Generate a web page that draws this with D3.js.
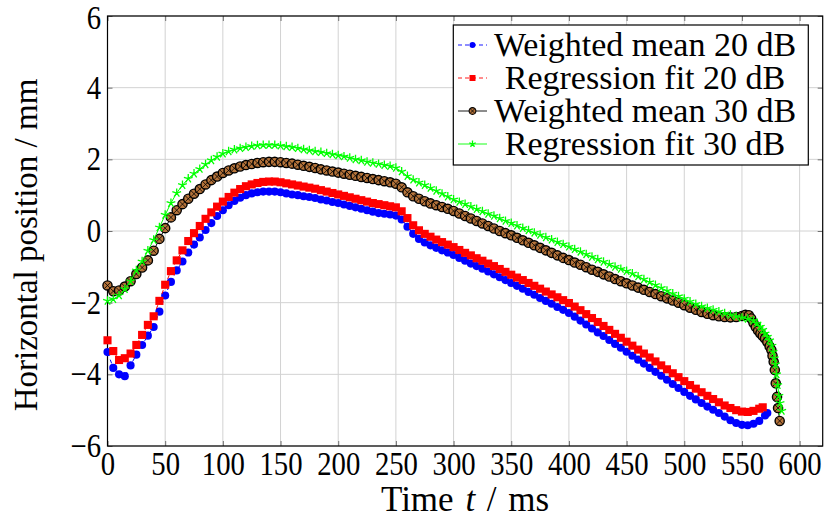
<!DOCTYPE html>
<html><head><meta charset="utf-8">
<script src="https://cdn.jsdelivr.net/npm/d3@7"></script>
<style>
body{margin:0;background:#fff}
text{font-family:"Liberation Serif","Times New Roman",serif;fill:#000}
</style>
</head><body>
<svg id="chart" width="828" height="525"></svg>
<script>
// ---------------- data ----------------
const xTicks = [0,50,100,150,200,250,300,350,400,450,500,550,600];
const yTicks = [-6,-4,-2,0,2,4,6];
const seriesNames = ["Weighted mean 20 dB","Regression fit 20 dB","Weighted mean 30 dB","Regression fit 30 dB"];

// sample times (ms)
const timeWM20 = d3.range(0, 571, 5).concat([572]);
const timeRF20 = d3.range(0, 566, 5).concat([568]);
const timeWM30 = d3.range(0, 551, 5).concat([553,556,558,560,562,564,566,568,570,572,574,575.5,576.5,577.5,578.5,579.3,580.4,581.3,582.7]);
const timeRF30 = d3.range(0, 556, 5).concat([560,563,566,568,570,572,574,576,577,578,579,580,581,582,583,584.5]);

// horizontal position (mm)
const valWM20 = [
 -3.38,-3.82,-4.0,-4.05,-3.75,-3.45,-3.18,-2.92,-2.68,-2.25,
 -1.8,-1.42,-1.1,-0.85,-0.6,-0.38,-0.18,0.03,0.22,0.42,
 0.58,0.72,0.84,0.93,1.0,1.05,1.08,1.1,1.1,1.1,
 1.08,1.05,1.02,1.0,0.97,0.95,0.92,0.88,0.85,0.81,
 0.78,0.74,0.7,0.66,0.62,0.58,0.54,0.5,0.48,0.46,
 0.43,0.32,0.12,-0.08,-0.22,-0.32,-0.4,-0.47,-0.54,-0.6,
 -0.67,-0.75,-0.83,-0.91,-0.98,-1.05,-1.13,-1.21,-1.29,-1.37,
 -1.45,-1.53,-1.61,-1.7,-1.78,-1.87,-1.95,-2.03,-2.12,-2.2,
 -2.29,-2.39,-2.5,-2.61,-2.72,-2.83,-2.93,-3.04,-3.15,-3.26,
 -3.37,-3.48,-3.59,-3.7,-3.82,-3.93,-4.04,-4.15,-4.27,-4.38,
 -4.49,-4.6,-4.7,-4.8,-4.9,-4.99,-5.08,-5.18,-5.28,-5.36,
 -5.41,-5.42,-5.38,-5.3,-5.15,
 -5.08];
const valRF20 = [
 -3.05,-3.35,-3.6,-3.55,-3.42,-3.18,-2.9,-2.62,-2.38,-1.95,
 -1.5,-1.12,-0.82,-0.54,-0.28,-0.06,0.14,0.34,0.52,0.68,
 0.82,0.95,1.07,1.17,1.25,1.3,1.34,1.37,1.38,1.38,
 1.36,1.33,1.3,1.27,1.24,1.21,1.18,1.14,1.1,1.06,
 1.02,0.98,0.94,0.9,0.86,0.82,0.78,0.75,0.72,0.69,
 0.66,0.55,0.36,0.16,0.02,-0.08,-0.16,-0.24,-0.31,-0.38,
 -0.45,-0.53,-0.61,-0.68,-0.76,-0.83,-0.91,-0.98,-1.06,-1.14,
 -1.22,-1.3,-1.37,-1.45,-1.53,-1.61,-1.69,-1.77,-1.85,-1.93,
 -2.01,-2.11,-2.21,-2.32,-2.43,-2.54,-2.65,-2.76,-2.87,-2.98,
 -3.09,-3.2,-3.31,-3.42,-3.53,-3.64,-3.75,-3.86,-3.97,-4.08,
 -4.19,-4.3,-4.4,-4.5,-4.6,-4.69,-4.78,-4.87,-4.94,-5.0,
 -5.04,-5.05,-5.02,-4.96,
 -4.92];
const valWM30 = [
 -1.52,-1.68,-1.66,-1.55,-1.4,-1.2,-1.02,-0.82,-0.55,-0.22,
 0.08,0.38,0.58,0.75,0.9,1.04,1.17,1.3,1.42,1.52,
 1.62,1.69,1.75,1.8,1.84,1.87,1.9,1.92,1.93,1.93,
 1.92,1.9,1.88,1.85,1.82,1.79,1.76,1.72,1.69,1.66,
 1.63,1.6,1.57,1.54,1.51,1.48,1.45,1.42,1.39,1.36,
 1.32,1.22,1.08,0.97,0.9,0.83,0.77,0.72,0.67,0.62,
 0.56,0.49,0.42,0.35,0.28,0.21,0.14,0.07,0.0,-0.06,
 -0.12,-0.19,-0.26,-0.33,-0.4,-0.47,-0.54,-0.61,-0.68,-0.75,
 -0.81,-0.88,-0.94,-1.01,-1.08,-1.14,-1.21,-1.27,-1.34,-1.4,
 -1.46,-1.52,-1.58,-1.64,-1.7,-1.76,-1.82,-1.88,-1.94,-2.0,
 -2.07,-2.14,-2.2,-2.26,-2.31,-2.35,-2.38,-2.4,-2.41,-2.4,
 -2.37,
 -2.34,-2.35,-2.44,-2.57,-2.68,-2.78,-2.86,-2.93,-3.0,-3.1,-3.22,-3.32,-3.48,-3.65,-3.88,-4.25,-4.63,-4.94,-5.3];
const valRF30 = [
 -1.95,-1.9,-1.8,-1.62,-1.4,-1.1,-0.85,-0.55,-0.25,0.1,
 0.45,0.78,1.06,1.28,1.46,1.6,1.73,1.86,1.97,2.07,
 2.16,2.22,2.27,2.31,2.34,2.37,2.39,2.4,2.4,2.4,
 2.38,2.36,2.34,2.31,2.28,2.25,2.22,2.2,2.17,2.14,
 2.11,2.08,2.04,2.0,1.97,1.93,1.9,1.87,1.84,1.81,
 1.76,1.66,1.53,1.43,1.35,1.28,1.2,1.12,1.04,0.96,
 0.88,0.81,0.75,0.68,0.61,0.55,0.48,0.42,0.35,0.28,
 0.22,0.15,0.08,0.02,-0.05,-0.11,-0.18,-0.24,-0.31,-0.37,
 -0.44,-0.51,-0.58,-0.65,-0.72,-0.79,-0.86,-0.93,-1.0,-1.06,
 -1.12,-1.19,-1.27,-1.35,-1.43,-1.51,-1.59,-1.67,-1.75,-1.82,
 -1.89,-1.97,-2.04,-2.1,-2.15,-2.2,-2.25,-2.3,-2.34,-2.38,
 -2.42,-2.45,
 -2.5,-2.58,-2.67,-2.76,-2.86,-2.95,-3.05,-3.2,-3.37,-3.55,-3.72,-4.0,-4.3,-4.6,-4.8,-5.02];

// ---------------- chart ----------------
const svg = d3.select("#chart");
const L = 107.5, R = 822.7, T = 16, B = 446;
const x = d3.scaleLinear().domain([0, 620]).range([L, R]);
const y = d3.scaleLinear().domain([-6, 6]).range([B, T]);

const zip = (ts, vs) => ts.slice(0, Math.min(ts.length, vs.length)).map((t, i) => ({t, v: vs[i]}));

// grid
const grid = svg.append("g");
grid.selectAll(".gx").data(xTicks).join("line")
  .attr("x1", d => x(d)).attr("x2", d => x(d)).attr("y1", T).attr("y2", B)
  .attr("stroke", "#d2d2d2").attr("stroke-width", 1);
grid.selectAll(".gy").data(yTicks).join("line")
  .attr("y1", d => y(d)).attr("y2", d => y(d)).attr("x1", L).attr("x2", R)
  .attr("stroke", "#d2d2d2").attr("stroke-width", 1);

// axes with inward ticks
const fs = 33, sx = 0.87;
const axB = svg.append("g").attr("transform", `translate(0,${B})`)
  .call(d3.axisBottom(x).tickValues(xTicks).tickSize(-5).tickPadding(6).tickFormat(d3.format("d")));
const axT = svg.append("g").attr("transform", `translate(0,${T})`)
  .call(d3.axisTop(x).tickValues(xTicks).tickSize(-5).tickFormat(""));
const axL = svg.append("g").attr("transform", `translate(${L},0)`)
  .call(d3.axisLeft(y).tickValues(yTicks).tickSize(-5).tickPadding(7.5).tickFormat(d => d < 0 ? "\u2212" + Math.abs(d) : d));
const axR = svg.append("g").attr("transform", `translate(${R},0)`)
  .call(d3.axisRight(y).tickValues(yTicks).tickSize(-5).tickFormat(""));
[axB, axT, axL, axR].forEach(a => {
  a.select(".domain").remove();
  a.selectAll(".tick line").attr("stroke", "#707070").attr("stroke-width", 1);
  a.selectAll(".tick text").attr("font-size", fs)
    .style("font-family", '"Liberation Serif","Times New Roman",serif')
    .attr("transform", `scale(${sx},1)`);
});
// keep the top label inside the canvas
axL.selectAll(".tick text").filter(d => d === 6).attr("dy", "0.38em");

// frame
svg.append("rect").attr("x", L).attr("y", T).attr("width", R - L).attr("height", B - T)
  .attr("fill", "none").attr("stroke", "#000").attr("stroke-width", 1.2);

// marker helpers
function starPath(r) {
  let p = "";
  for (let k = 0; k < 5; k++) {
    const a = Math.PI / 2 + k * 2 * Math.PI / 5;
    p += `M0,0L${(r * Math.cos(a)).toFixed(2)},${(-r * Math.sin(a)).toFixed(2)}`;
  }
  return p;
}
function drawMarker(g, kind, k) {
  if (kind === "circle") {
    g.append("circle").attr("r", 3.0 * k).attr("fill", "#0000ff");
  } else if (kind === "square") {
    const h = 3.0 * k;
    g.append("rect").attr("x", -h).attr("y", -h).attr("width", 2 * h).attr("height", 2 * h).attr("fill", "#ff0000");
  } else if (kind === "otimes") {
    g.append("circle").attr("r", 3.4 * k).attr("fill", "#b5733a").attr("stroke", "#000").attr("stroke-width", k > 1 ? 1.4 : 1.1);
    const c = 2.3 * k;
    g.append("path").attr("d", `M${-c},${-c}L${c},${c}M${-c},${c}L${c},${-c}`).attr("stroke", "#000").attr("stroke-width", 0.8);
  } else if (kind === "star") {
    g.append("path").attr("d", starPath(3.4 * k)).attr("stroke", "#00ff00").attr("stroke-width", 1.3).attr("fill", "none");
  }
}

const series = [
  {name: seriesNames[0], data: zip(timeWM20, valWM20), color: "#0000ff", dash: "4,4", marker: "circle"},
  {name: seriesNames[1], data: zip(timeRF20, valRF20), color: "#ff0000", dash: "4,4", marker: "square"},
  {name: seriesNames[2], data: zip(timeWM30, valWM30), color: "#000000", dash: null, marker: "otimes"},
  {name: seriesNames[3], data: zip(timeRF30, valRF30), color: "#00ff00", dash: null, marker: "star"}
];

const line = d3.line().x(d => x(d.t)).y(d => y(d.v));
const plot = svg.append("g");
series.forEach(s => {
  const g = plot.append("g");
  g.append("path").datum(s.data).attr("d", line).attr("fill", "none")
    .attr("stroke", s.color).attr("stroke-width", 1)
    .attr("stroke-dasharray", s.dash);
  g.selectAll("g.m").data(s.data).join("g").attr("class", "m")
    .attr("transform", d => `translate(${x(d.t)},${y(d.v)})`)
    .each(function () { drawMarker(d3.select(this), s.marker, 1.35); });
});

// axis titles
svg.append("text").attr("x", (L + R) / 2).attr("y", 511).attr("text-anchor", "middle")
  .attr("font-size", 35).attr("word-spacing", 3)
  .html('Time <tspan font-style="italic">t</tspan> / ms');
svg.append("text").attr("transform", "translate(37,245) rotate(-90)").attr("text-anchor", "middle")
  .attr("font-size", 33).text("Horizontal position / mm");

// legend
const lg = svg.append("g");
lg.append("rect").attr("x", 453.3).attr("y", 25).attr("width", 355).attr("height", 140)
  .attr("fill", "#fff").attr("stroke", "#000").attr("stroke-width", 1.2);
const rowY = [45, 78, 111, 144];
series.forEach((s, i) => {
  const yy = rowY[i];
  lg.append("line").attr("x1", 458).attr("x2", 487).attr("y1", yy).attr("y2", yy)
    .attr("stroke", s.color).attr("stroke-width", 0.9).attr("stroke-dasharray", s.dash ? "4,3" : null);
  drawMarker(lg.append("g").attr("transform", `translate(472.5,${yy})`), s.marker, 1);
  lg.append("text").attr("x", 645).attr("y", yy + 11).attr("text-anchor", "middle")
    .attr("font-size", 34).text(s.name);
});
</script>
</body></html>
